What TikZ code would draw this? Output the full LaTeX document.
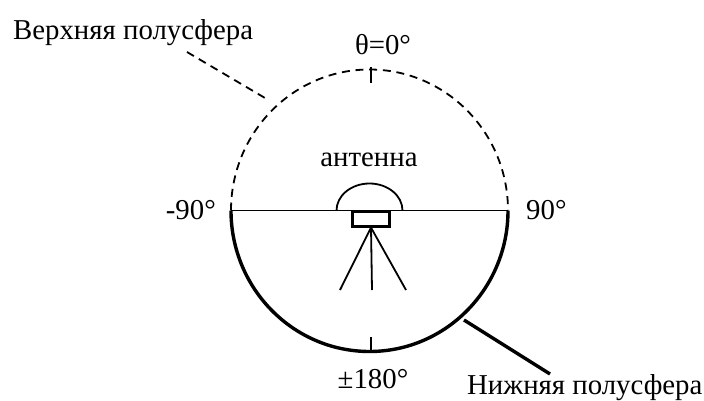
\documentclass[tikz,border=0pt]{standalone}
\usepackage{fontspec}
\setmainfont{Liberation Serif}
\usetikzlibrary{calc}
\begin{document}
\begin{tikzpicture}[
  x=1pt,y=-1pt,
  font=\fontsize{28.8}{32}\selectfont,
  lab/.style={inner sep=0pt,anchor=base},
  thin wire/.style={line width=1.8pt,draw=black},
  upper/.style={line width=1.8pt,dash pattern=on 8pt off 5.7pt},
  lower/.style={line width=3.4pt,draw=black}]
\useasboundingbox (0,0) rectangle (704,401);
% ---- labels
\node[lab,anchor=base west] (up) at (13,40) {Верхняя полусфера};
\node[lab,anchor=base west] (low) at (467,394.5) {Нижняя полусфера};
\node[lab] (top) at (383,55) {θ=0°};
\node[lab] (ant) at (369,167) {антенна};
\node[lab,anchor=base east] (left) at (216,219) {-90°};
\node[lab,anchor=base west] (right) at (526,219) {90°};
\node[lab] (bot) at (373,388) {±180°};
% ---- sphere
\coordinate (w) at (231,210.5);
\coordinate (e) at (508,210.5);
\coordinate (n) at (371,67.5);
\coordinate (s) at (371,351);
\draw[upper] (w) arc[start angle=180,end angle=0,x radius=138.5,y radius=-141];
\draw[lower] (w) arc[start angle=180,end angle=360,x radius=138.5,y radius=-141];
\draw[thin wire] (w) -- (e);
\draw[thin wire] (n) -- ++(0,15.5);
\draw[thin wire] (s) -- ++(0,-14);
% ---- antenna on its stand
\coordinate (domel) at (336.5,210.5);
\draw[thin wire] (domel) arc[start angle=180,end angle=0,x radius=33,y radius=-27];
\node[draw=black,line width=2.6pt,minimum width=36.5pt,minimum height=14.5pt,inner sep=0pt,anchor=north] (base) at (371,210.5) {};
\coordinate (legl) at (340,290);
\coordinate (legm) at (372,290);
\coordinate (legr) at (406,290);
\draw[thin wire] (base.south) -- (legl);
\draw[thin wire] (base.south) -- (legm);
\draw[thin wire] (base.south) -- (legr);
% ---- leaders
\coordinate (upa) at (187,52);
\coordinate (upb) at (265,98);
\coordinate (lowa) at (464,320);
\coordinate (lowb) at (550,374);
\draw[upper] (upa) -- (upb);
\draw[lower] (lowa) -- (lowb);
\end{tikzpicture}
\end{document}
